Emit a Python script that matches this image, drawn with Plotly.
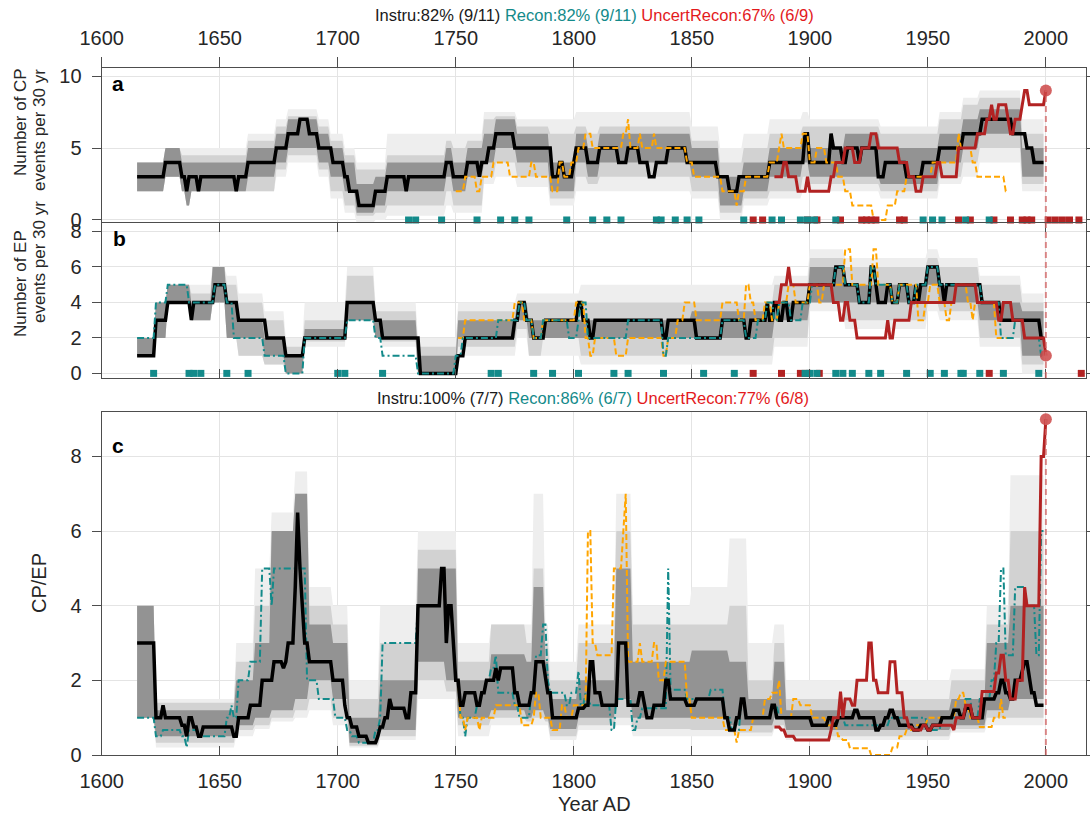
import plotly.graph_objects as go

# ------------------------------------------------------------------
# Panel a: number of CP events per 30 yr (years where a value starts)
# ------------------------------------------------------------------
cp_instr_yr = [1615, 1627, 1634, 1636, 1637, 1641, 1642, 1657, 1658, 1662, 1674, 1679, 1684, 1688, 1692, 1698,
               1703, 1705, 1709, 1716, 1721, 1729, 1730, 1746, 1749, 1755, 1760, 1761, 1764, 1767, 1775, 1791,
               1794, 1796, 1800, 1801, 1806, 1811, 1819, 1823, 1828, 1832, 1835, 1840, 1848, 1861, 1866, 1870,
               1883, 1898, 1900, 1909, 1910, 1914, 1916, 1921, 1922, 1929, 1932, 1941, 1948, 1955, 1965, 1973,
               1986, 1992, 1995, 1999]
cp_instr = [3, 4, 3, 2, 3, 2, 3, 2, 3, 4, 5, 6, 7, 6, 5, 4,
            3, 2, 1, 2, 3, 2, 3, 4, 3, 4, 3, 4, 5, 6, 5, 3,
            4, 3, 4, 5, 4, 5, 4, 5, 4, 3, 4, 5, 4, 3, 2, 3,
            4, 6, 4, 6, 5, 4, 5, 4, 5, 3, 4, 3, 4, 5, 6, 7,
            6, 5, 4, 4]

cp_alt_yr = [1750, 1754, 1759, 1761, 1766, 1773, 1782, 1784, 1791, 1794, 1796, 1799, 1802, 1805, 1808, 1821,
             1823, 1824, 1828, 1829, 1834, 1835, 1848, 1851, 1863, 1869, 1870, 1873, 1883, 1887, 1888, 1889,
             1897, 1900, 1903, 1907, 1912, 1915, 1918, 1927, 1933, 1937, 1941, 1952, 1963, 1964, 1969, 1971,
             1983, 1984]
cp_alt = [2, 3, 2, 3, 4, 3, 4, 3, 2, 4, 3, 4, 5, 6, 5, 6,
          7, 5, 6, 5, 6, 5, 4, 3, 2, 1, 2, 3, 4, 5, 6, 5,
          6, 4, 5, 4, 3, 2, 1, 0, 1, 2, 3, 4, 6, 5, 4, 3,
          2, 2]

cp_uncert_yr = [1885, 1889, 1891, 1895, 1899, 1900, 1909, 1911, 1915, 1919, 1922, 1926, 1929, 1938, 1942, 1945,
                1948, 1954, 1956, 1963, 1971, 1975, 1977, 1978, 1980, 1984, 1985, 1987, 1990, 1991, 1993, 1999,
                2000]
cp_uncert = [3, 4, 3, 2, 3, 2, 3, 4, 5, 4, 5, 6, 5, 4, 3, 2,
             3, 4, 3, 5, 6, 7, 8, 7, 8, 7, 6, 7, 8, 9, 8, 8,
             9]

# spread of the CP count (dark / light / faint envelopes)
cp_band_yr = [1615, 1627, 1634, 1636, 1638, 1662, 1674, 1679, 1689, 1692, 1697, 1703, 1708, 1716, 1721, 1746,
              1749, 1755, 1762, 1767, 1776, 1790, 1801, 1806, 1811, 1850, 1862, 1872, 1883, 1897, 1900, 1915,
              1930, 1955, 1965, 1972, 1990, 1999]
cp_dark_lo = [2, 3, 2, 1, 2, 3, 4, 5, 5, 4, 3, 2, 0.5, 1, 2, 3, 2, 3, 4, 5, 4, 2, 4, 3, 4, 3, 1, 2, 3, 4, 3, 3, 2.5,
              4, 5, 6, 3, 3]
cp_dark_hi = [4, 5, 4, 4, 4, 5, 6, 7, 7, 6, 5, 4, 2.5, 3, 4, 5, 4, 5, 6, 7, 6, 4, 6, 5, 6, 5, 3, 4, 5, 6, 5, 6, 5, 6,
              7, 7.7, 5, 5]
cp_light_lo = [2, 3, 2, 1, 2, 2, 3.5, 4.5, 4.5, 3.5, 2, 1, 0.3, 0.5, 1, 2, 1, 1, 3, 4, 3, 1.5, 3, 2.5, 3, 2, 0.5,
               1.5, 2, 3, 2.5, 2.5, 2, 3, 4, 5, 2.5, 2.5]
cp_light_hi = [4, 5, 4.5, 4.5, 4.5, 5.5, 6.5, 7.2, 7.2, 6.5, 5.5, 4.5, 3.5, 3.5, 4.5, 5.5, 5, 5.5, 7, 7.2, 6.5, 6,
               6.5, 6, 6.5, 5.5, 4, 5, 6, 6.5, 6.5, 6.5, 6, 7, 8, 8.5, 6, 6]
cp_faint_lo = [2, 3, 2, 1, 2, 2, 3, 4, 4, 3, 1.5, 0.5, -0.2, 0, 0.3, 1, 0.5, 0.5, 2.5, 3, 2.3, 1, 2, 2, 2, 1.5, 0,
               1, 1.5, 2, 2, 2, 1.5, 2.5, 3, 4, 2, 2]
cp_faint_hi = [4, 5, 5, 5, 5, 6, 7, 7.7, 7.7, 7, 6, 5, 4, 4, 6, 6, 6, 6, 7.5, 7.5, 7, 7, 7.5, 7.5, 7.5, 6.5, 5, 6,
               7, 7.5, 7, 7, 6.5, 7.5, 8.5, 9, 7, 7]

# ------------------------------------------------------------------
# Panel b: number of EP events per 30 yr
# ------------------------------------------------------------------
ep_instr_yr = [1615, 1623, 1628, 1638, 1639, 1648, 1653, 1658, 1670, 1678, 1686, 1704, 1716, 1719, 1735, 1751,
               1754, 1775, 1777, 1780, 1783, 1788, 1802, 1804, 1807, 1809, 1838, 1840, 1852, 1863, 1873, 1875,
               1882, 1883, 1885, 1887, 1889, 1891, 1893, 1900, 1911, 1915, 1921, 1926, 1928, 1929, 1933, 1935,
               1938, 1942, 1945, 1946, 1947, 1950, 1955, 1957, 1958, 1973, 1981, 1998, 1999]
ep_instr = [1, 3, 4, 3, 4, 5, 4, 3, 2, 1, 2, 4, 3, 2, 0, 1,
            2, 3, 4, 3, 2, 3, 4, 3, 2, 3, 2, 3, 2, 3, 2, 3,
            4, 3, 4, 3, 4, 3, 4, 5, 6, 5, 4, 6, 5, 4, 5, 4,
            5, 4, 5, 4, 5, 6, 5, 4, 5, 4, 3, 2, 2]

ep_recon_yr = [1615, 1623, 1628, 1637, 1648, 1653, 1656, 1669, 1678, 1686, 1704, 1716, 1719, 1734, 1750, 1753,
               1768, 1777, 1780, 1783, 1787, 1798, 1802, 1803, 1806, 1807, 1823, 1838, 1840, 1863, 1873, 1878,
               1882, 1885, 1887, 1892, 1897, 1901, 1911, 1915, 1921, 1926, 1928, 1935, 1938, 1942, 1945, 1950,
               1955, 1973, 1981, 1987, 1991, 1998, 1999]
ep_recon = [2, 4, 5, 4, 5, 4, 2, 1, 0, 2, 3, 2, 1, 0, 1, 2,
            3, 4, 3, 2, 3, 2, 3, 4, 2, 2, 3, 1, 2, 3, 2, 3,
            4, 3, 4, 3, 4, 5, 6, 5, 4, 6, 5, 4, 5, 4, 5, 6,
            5, 4, 2, 3, 2, 1, 1]

ep_alt_yr = [1751, 1754, 1775, 1779, 1783, 1787, 1801, 1805, 1807, 1809, 1818, 1823, 1838, 1840, 1844, 1847,
             1852, 1863, 1870, 1873, 1875, 1877, 1881, 1884, 1887, 1891, 1894, 1900, 1904, 1906, 1915, 1918,
             1927, 1929, 1935, 1938, 1946, 1949, 1951, 1955, 1958, 1960, 1962, 1967, 1969, 1970, 1979, 1985]
ep_alt = [2, 3, 4, 3, 2, 3, 4, 2, 1, 2, 1, 2, 1, 2, 3, 4,
          3, 4, 3, 5, 4, 3, 4, 3, 4, 5, 4, 5, 4, 5, 7, 5,
          7, 5, 4, 5, 3, 4, 5, 4, 3, 4, 5, 4, 3, 4, 2, 2]

ep_uncert_yr = [1885, 1888, 1891, 1892, 1910, 1913, 1915, 1917, 1920, 1933, 1934, 1936, 1943, 1962, 1971, 1980,
                1982, 1986, 1991, 1999, 2000]
ep_uncert = [4, 5, 6, 5, 4, 3, 4, 3, 2, 3, 2, 3, 4, 5, 4, 3,
             4, 3, 2, 2, 1]

ep_band_yr = [1615, 1623, 1628, 1638, 1647, 1653, 1658, 1669, 1678, 1686, 1704, 1716, 1719, 1734, 1751, 1776,
              1781, 1787, 1803, 1850, 1885, 1900, 1915, 1950, 1955, 1972, 1990, 1999]
ep_dark_lo = [1, 2, 4, 3, 4, 2, 2, 1, 0, 2, 3, 2, 2, 0, 2, 3, 2, 2, 2, 2, 3, 4, 4, 5, 4, 3, 1, 1]
ep_dark_hi = [2, 4, 5, 4, 6, 4, 3, 2, 1, 2.5, 4, 3, 3, 1, 3, 4, 3, 3, 3, 3.5, 4, 6, 5, 6, 5, 4, 3.5, 3.5]
ep_light_lo = [1, 2, 4, 3, 4, 2, 1, 0.5, 0, 1.8, 3, 2, 1.8, 0, 1.5, 2.5, 1, 2, 1, 1, 2, 4, 3, 4, 3.5, 2, 0.5, 0.5]
ep_light_hi = [2, 4, 5, 4.5, 6, 5, 4, 3, 1.5, 3, 5.5, 3.5, 3.5, 1.5, 3.5, 4, 4, 4, 4, 4, 5, 6.5, 6, 6.5, 6, 5, 4, 4]
ep_faint_lo = [1, 2, 4, 3, 4, 2, 1, 0.5, 0, 1.5, 3, 2, 1.5, 0, 1, 2, 1, 1, 0.5, 0.5, 1.5, 3.5, 2.5, 3.5, 3, 1.5,
               0, 0]
ep_faint_hi = [2, 4, 5, 5, 6, 5.5, 4.5, 3.5, 2, 4, 6, 4, 4, 2, 4, 4.5, 4.5, 4.5, 5, 5, 5.5, 7, 6.5, 7, 6.5, 5.5,
               4.5, 4.5]

# ------------------------------------------------------------------
# Panel c: CP/EP ratio
# ------------------------------------------------------------------
ratio_instr_yr = [1615, 1623, 1626, 1627, 1634, 1636, 1637, 1639, 1641, 1643, 1656, 1658, 1663, 1668, 1673, 1677,
                  1678, 1679, 1682, 1683, 1684, 1685, 1686, 1688, 1698, 1703, 1704, 1706, 1709, 1713, 1717, 1718,
                  1720, 1722, 1723, 1729, 1731, 1734, 1744, 1746, 1747, 1749, 1750, 1752, 1754, 1759, 1761, 1763,
                  1767, 1768, 1769, 1775, 1777, 1782, 1784, 1788, 1789, 1791, 1802, 1805, 1807, 1809, 1812, 1819,
                  1823, 1828, 1830, 1831, 1834, 1839, 1841, 1848, 1852, 1864, 1866, 1869, 1871, 1873, 1884, 1886,
                  1901, 1908, 1910, 1912, 1919, 1921, 1928, 1930, 1932, 1934, 1936, 1938, 1944, 1947, 1950, 1952,
                  1956, 1961, 1964, 1966, 1969, 1974, 1979, 1981, 1983, 1985, 1987, 1990, 1991, 1993, 1994, 1996,
                  1999]
ratio_instr = [3, 1, 1.33, 1, 0.8, 0.5, 1, 0.75, 0.5, 0.75, 0.5, 1, 1.33, 2, 2.5, 2.33,
               2.5, 3, 4.5, 6.5, 5, 4, 3, 2.5, 2, 1.33, 1, 0.75, 0.5, 0.33, 0.5, 0.75,
               1, 1.5, 1.25, 1, 1.67, 4, 5, 3, 4, 3, 2, 1.33, 1.67, 1.33, 1.67, 2,
               2.33, 2, 2.33, 1.67, 1.33, 1.67, 2.5, 2, 1.67, 1, 1.25, 1.33, 2.5, 1.67, 1.33, 3,
               1.33, 1.67, 1.33, 1, 1.33, 2, 1.5, 1.33, 1.5, 1, 0.67, 1, 1.5, 1, 1.33, 1,
               0.8, 1, 0.8, 1, 1.2, 1, 0.67, 0.8, 1, 1.2, 1, 0.8, 0.67, 0.8, 0.67, 0.8,
               1, 1.2, 1, 1.25, 1, 1.5, 1.67, 2, 1.67, 1.5, 2, 2.25, 2.5, 2, 1.67, 1.33,
               1.33]

ratio_recon_yr = [1615, 1623, 1626, 1634, 1636, 1637, 1641, 1653, 1655, 1656, 1658, 1663, 1668, 1672, 1673, 1687,
                  1692, 1699, 1704, 1706, 1709, 1716, 1718, 1719, 1734, 1744, 1746, 1747, 1749, 1750, 1752, 1754,
                  1755, 1759, 1761, 1763, 1765, 1767, 1768, 1775, 1777, 1782, 1784, 1787, 1789, 1790, 1797, 1799,
                  1802, 1803, 1805, 1807, 1816, 1818, 1825, 1827, 1829, 1840, 1841, 1848, 1858, 1864, 1867, 1871,
                  1873, 1884, 1887, 1901, 1910, 1915, 1934, 1950, 1956, 1966, 1969, 1972, 1977, 1979, 1981, 1983,
                  1987, 1992, 1996, 1998, 1999]
ratio_recon = [1, 0.5, 0.67, 0.5, 0.2, 0.67, 0.5, 1, 1.33, 1, 2, 2.5, 5, 4, 5, 2,
               1.5, 1, 0.67, 0.5, 0.33, 0.67, 1, 3, 4, 5, 3, 4, 3, 2, 1, 0.5,
               1, 1.33, 1.67, 2, 2.33, 2.67, 1.67, 1.33, 1, 1.67, 2.67, 3.5, 2, 1.67, 1.33, 1.67,
               2.25, 1.33, 1.67, 1.33, 0.67, 1.5, 0.67, 1, 1.25, 5, 1.75, 1.5, 1.75, 1, 0.67, 1.5,
               1, 1.33, 1, 0.8, 1, 0.8, 1, 0.67, 1, 1.5, 1, 1.5, 2, 3, 5, 2.67,
               4.5, 4, 2.67, 6, 6]

ratio_alt_yr = [1750, 1752, 1754, 1755, 1760, 1761, 1767, 1778, 1783, 1784, 1786, 1791, 1795, 1797, 1800, 1806,
                1808, 1810, 1817, 1821, 1822, 1823, 1828, 1829, 1834, 1836, 1839, 1848, 1850, 1864, 1869, 1870,
                1876, 1881, 1884, 1887, 1888, 1893, 1896, 1901, 1907, 1912, 1914, 1917, 1926, 1935, 1938, 1941,
                1945, 1950, 1962, 1964, 1966, 1968, 1972, 1978, 1981, 1982, 1983]
ratio_alt = [2, 1, 0.67, 1, 0.67, 1, 1.33, 0.8, 1, 1.67, 1, 0.67, 1.33, 1, 1.33, 6,
             3, 2.67, 5, 6, 7, 2.5, 3, 2.5, 3, 2, 2.5, 1.5, 1, 0.67, 0.33, 0.67,
             1, 1.5, 1.67, 2, 1, 1.5, 1.33, 1, 0.8, 0.5, 0.4, 0.18, 0, 0.2, 0.5, 0.67,
             0.8, 1, 1.5, 1.67, 1.33, 1, 0.75, 1, 1.5, 1, 1]

ratio_uncert_yr = [1885, 1888, 1890, 1894, 1909, 1910, 1913, 1914, 1915, 1918, 1920, 1925, 1927, 1929, 1934, 1937,
                   1940, 1942, 1944, 1948, 1950, 1952, 1961, 1962, 1966, 1969, 1973, 1979, 1981, 1983, 1985, 1988,
                   1991, 1992, 1998, 2000]
ratio_uncert = [0.75, 0.67, 0.5, 0.4, 0.67, 1, 1.7, 1, 1.5, 1.33, 2, 3, 2, 1.67, 2.5, 1.67,
                1, 0.75, 0.67, 0.8, 0.67, 0.8, 0.67, 1, 1.33, 1, 1.7, 2.2, 2.67, 2, 1.5, 2,
                4.5, 4, 8, 9]

ratio_band_yr = [1615, 1623, 1657, 1665, 1672, 1682, 1688, 1698, 1705, 1718, 1734, 1746, 1751, 1765, 1780, 1783,
                 1788, 1790, 1802, 1818, 1825, 1850, 1866, 1874, 1885, 1890, 1960, 1975, 1985, 1999]
ratio_dark_lo = [1, 0.5, 0.8, 1, 1.2, 1.5, 2, 1.5, 0.33, 0.67, 2.5, 2, 1, 1.2, 1, 1.2, 1, 0.7, 1, 1.5, 1, 1, 0.8,
                 0.8, 1, 0.67, 0.8, 1.2, 1.5, 1.5]
ratio_dark_hi = [4, 1.2, 2, 3, 6, 7, 3.5, 3, 1, 2, 5, 5, 2, 2.7, 2.5, 4.5, 2.5, 1.5, 2, 5, 2.5, 2.8, 2.5, 1.5, 2.5,
                 1.2, 1.5, 3, 4, 4]
ratio_light_lo = [1, 0.33, 0.67, 0.8, 1, 1.2, 1.5, 1, 0.25, 0.5, 2, 1.7, 0.8, 1, 0.9, 1, 0.9, 0.5, 0.8, 1, 0.7,
                  0.67, 0.6, 0.6, 0.8, 0.5, 0.7, 1, 1, 1]
ratio_light_hi = [4, 1.4, 2.5, 4, 6, 7, 4, 3.5, 1.5, 3, 5.5, 5.5, 2.5, 3.5, 3, 5, 3, 2, 3, 6, 3.5, 3.5, 4, 2, 3,
                  1.5, 2, 3.5, 6, 6]
ratio_faint_lo = [1, 0.2, 0.5, 0.7, 0.9, 1, 1.2, 0.8, 0.2, 0.4, 1.5, 1.5, 0.5, 0.8, 0.8, 0.8, 0.8, 0.4, 0.67, 0.8,
                  0.5, 0.5, 0.5, 0.5, 0.7, 0.4, 0.6, 0.8, 0.8, 0.8]
ratio_faint_hi = [4, 1.5, 3, 5, 6.5, 7.6, 4.5, 4, 2, 4, 6, 6, 3, 3.5, 3.5, 7, 3.5, 2.5, 3.5, 7, 4, 4.5, 5.8, 3,
                  3.5, 2, 2.3, 4, 7.5, 7.5]

# event years marked along the zero line
cp_recon_events = [1730, 1733, 1744, 1759, 1769, 1775, 1781, 1797, 1808, 1814, 1820, 1835, 1837, 1843, 1848, 1853,
                   1872, 1884, 1888, 1896, 1899, 1902, 1911, 1948, 1952, 1956, 1966, 1976]
cp_uncert_events = [1876, 1880, 1899, 1903, 1913, 1922, 1924, 1926, 1928, 1938, 1940, 1963, 1968, 1978, 1985, 1990,
                    1992, 1994, 2001, 2004, 2007, 2010, 2014]
ep_recon_events = [1622, 1637, 1639, 1642, 1653, 1662, 1700, 1703, 1719, 1765, 1768, 1783, 1791, 1802, 1817, 1823,
                   1838, 1855, 1868, 1898, 1900, 1903, 1911, 1914, 1918, 1925, 1930, 1941, 1951, 1957, 1964, 1965,
                   1972, 1982, 1997]
ep_uncert_events = [1876, 1888, 1896, 1899, 1904, 1976, 2015]

# end-point values of the uncertain reconstruction
end_year = 2000
end_cp = 9
end_ep = 1
end_ratio = 9

# skill scores shown above panels a and c
score_a = [("Instru:82% (9/11)", "#1a1a1a"), ("Recon:82% (9/11)", "#138a8a"), ("UncertRecon:67% (6/9)", "#e3191c")]
score_c = [("Instru:100% (7/7)", "#1a1a1a"), ("Recon:86% (6/7)", "#138a8a"), ("UncertRecon:77% (6/8)", "#e3191c")]

# ------------------------------------------------------------------
W, H = 1090, 816
FONT = "Liberation Sans, Arial, Helvetica, sans-serif"
BLACK = "#000000"
ORANGE = "#ffa500"
TEAL = "#138a8a"
RED = "#b22222"
DARK = "#939393"
LIGHT = "#d2d2d2"
FAINT = "#eeeeee"


def px(x):
    return x / W


def py(y):
    return 1 - y / H


def annual_path(yrs, vals):
    """Annual series: each value holds until the year before the next change,
    then the line moves to the new value over one year."""
    xs, ys = [], []
    for i, (t, v) in enumerate(zip(yrs, vals)):
        xs.append(t)
        ys.append(v)
        if i + 1 < len(yrs) and yrs[i + 1] - 1 > t:
            xs.append(yrs[i + 1] - 1)
            ys.append(v)
    return xs, ys


fig = go.Figure()


def band(x, lo, hi, xa, ya, color):
    xl, yl = annual_path(x, lo)
    xh, yh = annual_path(x, hi)
    fig.add_trace(go.Scatter(x=xl, y=yl, xaxis=xa, yaxis=ya, mode="lines",
                             line=dict(width=0), hoverinfo="skip", showlegend=False))
    fig.add_trace(go.Scatter(x=xh, y=yh, xaxis=xa, yaxis=ya, mode="lines",
                             line=dict(width=0), fill="tonexty", fillcolor=color,
                             hoverinfo="skip", showlegend=False))


def series(x, y, xa, ya, color, width, dash="solid"):
    xs, ys = annual_path(x, y)
    fig.add_trace(go.Scatter(x=xs, y=ys, xaxis=xa, yaxis=ya, mode="lines",
                             line=dict(color=color, width=width, dash=dash),
                             hoverinfo="skip", showlegend=False))


def events(x, xa, ya, color):
    fig.add_trace(go.Scatter(x=x, y=[0] * len(x), xaxis=xa, yaxis=ya, mode="markers",
                             marker=dict(symbol="square", size=7, color=color, line=dict(width=0)),
                             hoverinfo="skip", showlegend=False, cliponaxis=False))


def endpoint(val, xa, ya):
    fig.add_trace(go.Scatter(x=[end_year], y=[val], xaxis=xa, yaxis=ya, mode="markers",
                             marker=dict(size=12, color="rgba(205,70,70,0.85)"),
                             hoverinfo="skip", showlegend=False, cliponaxis=False))


ORDASH = "6px,3px"
TLDASH = "7px,3px,2px,3px"

# panel a  (x3 / y3)
band(cp_band_yr, cp_faint_lo, cp_faint_hi, "x3", "y3", FAINT)
band(cp_band_yr, cp_light_lo, cp_light_hi, "x3", "y3", LIGHT)
band(cp_band_yr, cp_dark_lo, cp_dark_hi, "x3", "y3", DARK)
series(cp_instr_yr, cp_instr, "x3", "y3", BLACK, 3.5)
series(cp_alt_yr, cp_alt, "x3", "y3", ORANGE, 2, ORDASH)
series(cp_uncert_yr, cp_uncert, "x3", "y3", RED, 3)
events(cp_uncert_events, "x3", "y3", RED)
events(cp_recon_events, "x3", "y3", TEAL)
endpoint(end_cp, "x3", "y3")

# panel b  (x2 / y2)
band(ep_band_yr, ep_faint_lo, ep_faint_hi, "x2", "y2", FAINT)
band(ep_band_yr, ep_light_lo, ep_light_hi, "x2", "y2", LIGHT)
band(ep_band_yr, ep_dark_lo, ep_dark_hi, "x2", "y2", DARK)
series(ep_instr_yr, ep_instr, "x2", "y2", BLACK, 3.5)
series(ep_alt_yr, ep_alt, "x2", "y2", ORANGE, 2, ORDASH)
series(ep_recon_yr, ep_recon, "x2", "y2", TEAL, 2, TLDASH)
series(ep_uncert_yr, ep_uncert, "x2", "y2", RED, 3)
events(ep_uncert_events, "x2", "y2", RED)
events(ep_recon_events, "x2", "y2", TEAL)
endpoint(end_ep, "x2", "y2")

# panel c  (x / y)
band(ratio_band_yr, ratio_faint_lo, ratio_faint_hi, "x", "y", FAINT)
band(ratio_band_yr, ratio_light_lo, ratio_light_hi, "x", "y", LIGHT)
band(ratio_band_yr, ratio_dark_lo, ratio_dark_hi, "x", "y", DARK)
series(ratio_recon_yr, ratio_recon, "x", "y", TEAL, 2, TLDASH)
series(ratio_alt_yr, ratio_alt, "x", "y", ORANGE, 2, ORDASH)
series(ratio_instr_yr, ratio_instr, "x", "y", BLACK, 3.5)
series(ratio_uncert_yr, ratio_uncert, "x", "y", RED, 3)
endpoint(end_ratio, "x", "y")

# ------------------------------------------------------------------
XDOM = [px(101.7), px(1086)]
XR = [1600, 2017]
YDOM_A = [py(222), py(68)]
YDOM_B = [py(378), py(222.5)]
YDOM_C = [py(755), py(411.7)]
TICKFONT = dict(family=FONT, size=20, color="#262626")
LINEC = "#4d4d4d"
GRIDC = "#e4e4e4"

common_x = dict(range=XR, domain=XDOM, tickvals=[1600, 1650, 1700, 1750, 1800, 1850, 1900, 1950, 2000],
                showgrid=True, gridcolor=GRIDC, gridwidth=1, zeroline=False, showline=True,
                linecolor=LINEC, linewidth=1.3, tickcolor=LINEC, tickfont=TICKFONT, automargin=False)
common_y = dict(showgrid=True, gridcolor=GRIDC, gridwidth=1, zeroline=False, showline=True,
                linecolor=LINEC, linewidth=1.3, tickcolor=LINEC, tickfont=TICKFONT, ticks="outside",
                ticklen=9, mirror="ticks", automargin=False, ticklabelstandoff=6)

fig.update_layout(
    width=W, height=H, margin=dict(l=0, r=0, t=0, b=0),
    paper_bgcolor="white", plot_bgcolor="white", showlegend=False,
    font=dict(family=FONT, color="#262626"),
    xaxis=dict(common_x, anchor="y", ticks="inside", ticklen=9, mirror=True, showticklabels=True,
               ticklabelstandoff=8),
    xaxis2=dict(common_x, anchor="y2", ticks="inside", ticklen=9, mirror="ticks", showticklabels=False),
    xaxis3=dict(common_x, anchor="y3", side="top", ticks="outside", ticklen=10, mirror=True,
                showticklabels=True, ticklabelstandoff=4),
    yaxis=dict(common_y, domain=YDOM_C, range=[0, 9.2], tickvals=[0, 2, 4, 6, 8], anchor="x"),
    yaxis2=dict(common_y, domain=YDOM_B, range=[-0.26, 8.5], tickvals=[0, 2, 4, 6, 8], anchor="x2"),
    yaxis3=dict(common_y, domain=YDOM_A, range=[-0.14, 10.56], tickvals=[0, 5, 10], anchor="x3"),
)

# dashed marker line at the end year
VLINE = dict(color="rgba(210,100,100,0.75)", width=2, dash="6px,4px")
fig.add_shape(type="line", xref="x3", yref="y3", x0=end_year, x1=end_year, y0=-0.14, y1=end_cp, line=VLINE)
fig.add_shape(type="line", xref="x2", yref="y2", x0=end_year, x1=end_year, y0=-0.26, y1=8.5, line=VLINE)
fig.add_shape(type="line", xref="x", yref="y", x0=end_year, x1=end_year, y0=0, y1=end_ratio, line=VLINE)


def score_text(parts):
    return " ".join('<span style="color:%s">%s</span>' % (c, t) for t, c in parts)


ann = [
    dict(x=px(594), y=py(15), text=score_text(score_a), font=dict(size=16.5)),
    dict(x=px(593), y=py(398), text=score_text(score_c), font=dict(size=16.5)),
    dict(x=px(118), y=py(84), text="<b>a</b>", font=dict(size=21, color="#000")),
    dict(x=px(119), y=py(238), text="<b>b</b>", font=dict(size=21, color="#000")),
    dict(x=px(118), y=py(446), text="<b>c</b>", font=dict(size=21, color="#000")),
    dict(x=px(594), y=py(804), text="Year AD", font=dict(size=20)),
    dict(x=px(39), y=py(583), text="CP/EP", textangle=-90, font=dict(size=20)),
    dict(x=px(20), y=py(122), text="Number of CP", textangle=-90, font=dict(size=17)),
    dict(x=px(39), y=py(130), text="events per 30 yr", textangle=-90, font=dict(size=17)),
    dict(x=px(20), y=py(284), text="Number of EP", textangle=-90, font=dict(size=17)),
    dict(x=px(39), y=py(262), text="events per 30 yr", textangle=-90, font=dict(size=17)),
]
for a in ann:
    a.update(xref="paper", yref="paper", showarrow=False, xanchor="center", yanchor="middle")
    a["font"] = dict(family=FONT, color=a["font"].get("color", "#262626"), size=a["font"]["size"])
    fig.add_annotation(**a)

fig.write_html("out.html")
